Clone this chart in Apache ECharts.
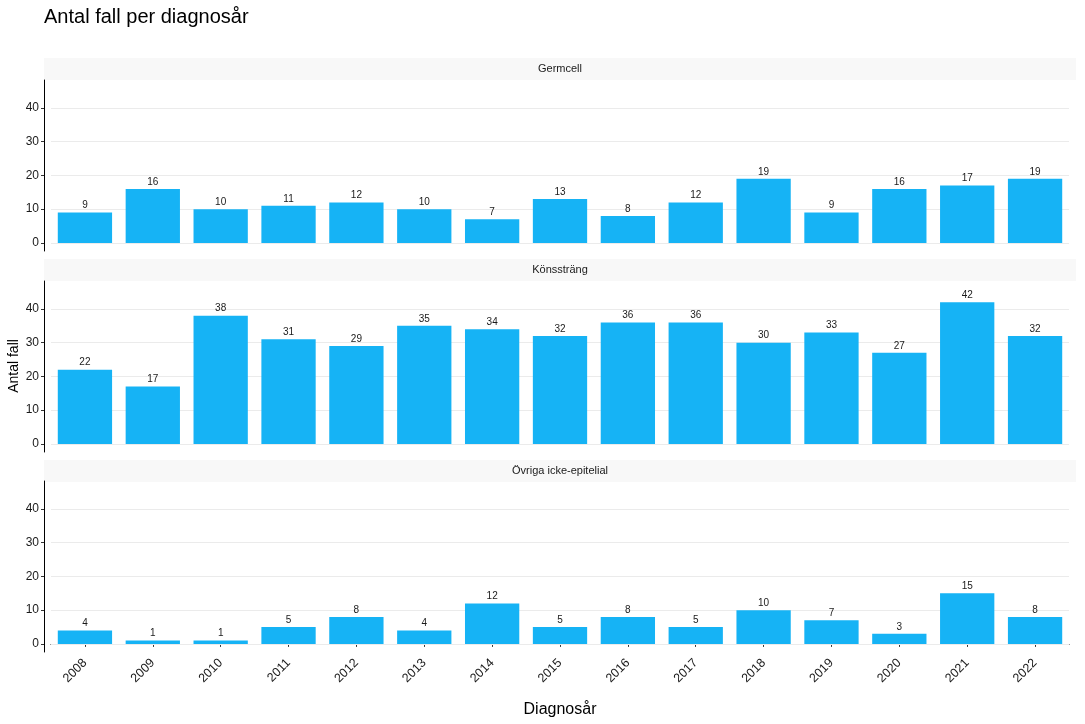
<!DOCTYPE html>
<html><head><meta charset="utf-8">
<script src="https://cdn.jsdelivr.net/npm/echarts@6/dist/echarts.min.js"></script>
<style>html,body{margin:0;padding:0;background:#fff}#c{width:1085px;height:724px}</style>
</head><body><div id="c"></div>
<script>
const years = ['2008','2009','2010','2011','2012','2013','2014','2015','2016','2017','2018','2019','2020','2021','2022'];
const panelNames = ['Germcell','Könssträng','Övriga icke-epitelial'];
const germcell = [9,16,10,11,12,10,7,13,8,12,19,9,16,17,19];
const konsstrang = [22,17,38,31,29,35,34,32,36,36,30,33,27,42,32];
const ovriga = [4,1,1,5,8,4,12,5,8,5,10,7,3,15,8];
const yTicks = [0,10,20,30,40];

const seriesData = [germcell, konsstrang, ovriga];
const font = 'Liberation Sans, Arial, sans-serif';
const gridTops = [80, 281, 481];
const gridH = 171;
const stripTops = [58, 259, 460];
const stripH = 22;

const grids = gridTops.map(t => ({left: 51, right: 16, top: t, height: gridH, containLabel: false, outerBoundsMode: 'none'}));
const xAxes = gridTops.map((t, i) => ({
  type: 'category', gridIndex: i, data: years,
  boundaryGap: true,
  axisLine: {show: i === 2, lineStyle: {color: '#000', width: 1}},
  axisTick: {show: i === 2, length: 3, alignWithLabel: true, lineStyle: {color: '#333'}},
  axisLabel: {show: i === 2, rotate: 45, fontSize: 12.5, color: '#1a1a1a', fontFamily: font, margin: 9},
  name: i === 2 ? 'Diagnosår' : '', nameLocation: 'middle', nameGap: 50,
  nameTextStyle: {fontSize: 16, color: '#000', fontFamily: font}
}));
const yAxes = gridTops.map((t, i) => ({
  type: 'value', gridIndex: i, min: -2.4, max: 48.3, offset: 7,
  axisLine: {show: true, lineStyle: {color: '#000', width: 1}},
  axisTick: {show: true, length: 3, customValues: yTicks, lineStyle: {color: '#333'}},
  axisLabel: {customValues: yTicks, fontSize: 12, color: '#1a1a1a', fontFamily: font, margin: 5},
  splitLine: {show: false}
}));
const series = [];
seriesData.forEach((d, i) => {
  series.push({
    type: 'bar', xAxisIndex: i, yAxisIndex: i, data: d, barCategoryGap: '20%', z: 3,
    itemStyle: {color: '#16B3F5'},
    label: {show: true, position: 'top', distance: 2, fontSize: 10, color: '#1a1a1a', fontFamily: font},
    markLine: {
      silent: true, symbol: 'none', z: 1, animation: false,
      label: {show: false},
      lineStyle: {color: '#ebebeb', type: 'solid', width: 1},
      data: yTicks.map(v => ({yAxis: v}))
    }
  });
});
const graphics = [];
stripTops.forEach((t, i) => {
  graphics.push({type: 'rect', left: 44, top: t, shape: {width: 1032, height: stripH}, style: {fill: '#f8f8f8'}, z: 0});
  graphics.push({type: 'text', x: 560, y: t + stripH / 2, style: {text: panelNames[i], fontSize: 11, fill: '#1a1a1a', fontFamily: font, textAlign: 'center', textVerticalAlign: 'middle'}, z: 1});
});
graphics.push({type: 'text', x: 14, y: 366, rotation: Math.PI / 2, style: {text: 'Antal fall', fontSize: 14, fill: '#000', fontFamily: font, textAlign: 'center', textVerticalAlign: 'middle'}, z: 1});
const chart = echarts.init(document.getElementById('c'), null, {renderer: 'canvas'});
chart.setOption({
  animation: false,
  backgroundColor: '#fff',
  title: {text: 'Antal fall per diagnosår', left: 39, top: 2, textStyle: {fontSize: 20, fontWeight: 'normal', color: '#000', fontFamily: font}},
  grid: grids, xAxis: xAxes, yAxis: yAxes, series: series, graphic: graphics
});
</script></body></html>
